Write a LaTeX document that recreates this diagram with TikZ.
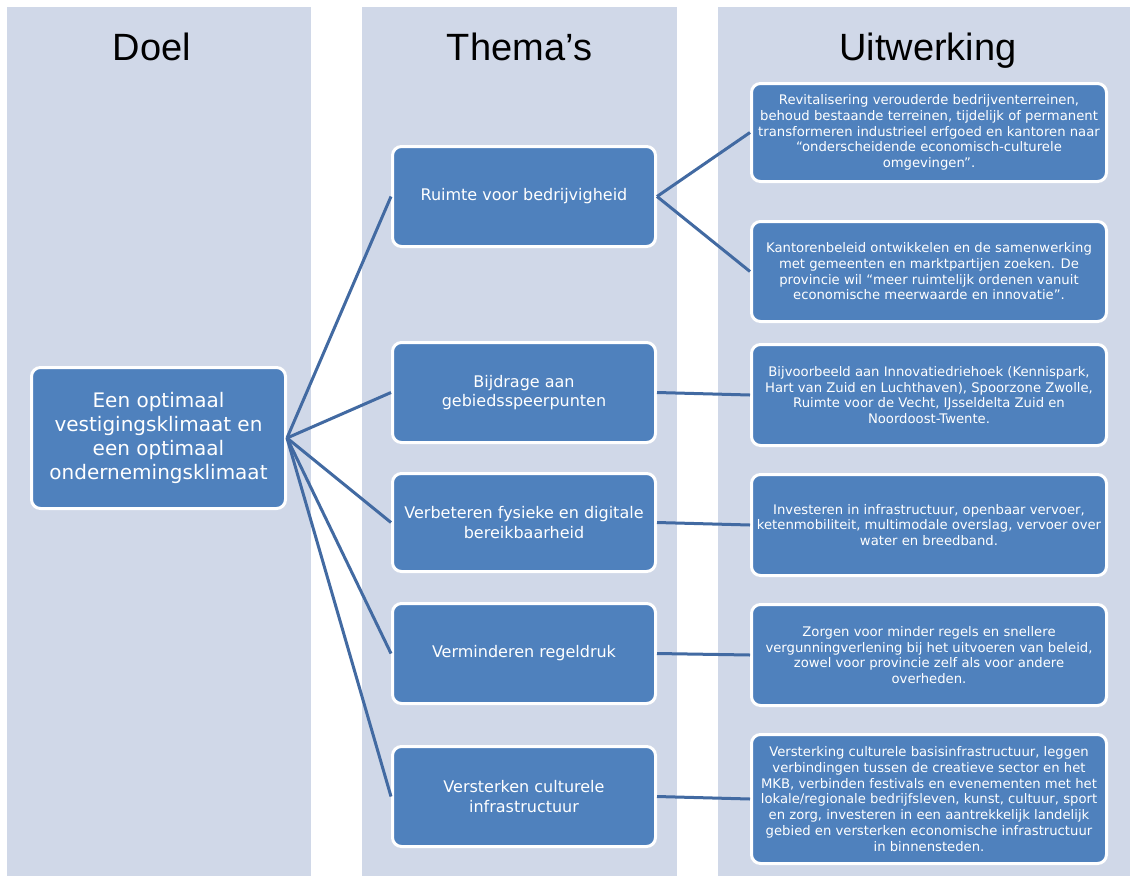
\documentclass[tikz,border=0pt]{standalone}
\usepackage{fontspec}
\setmainfont{Liberation Sans}
\newfontfamily\boxfont{DejaVu Sans}
\definecolor{colbg}{RGB}{208,216,232}
\definecolor{boxfill}{RGB}{79,129,189}
\definecolor{linkcol}{RGB}{66,106,162}
\begin{document}
\begin{tikzpicture}[x=1pt,y=-1pt,
  column/.style={fill=colbg,draw=none},
  box/.style={rectangle,rounded corners=9pt,fill=boxfill,draw=white,line width=3pt,
    text=white,align=center,inner sep=2pt},
  doelbox/.style={box,minimum width=254pt,minimum height=141pt,
    font=\boxfont\fontsize{20}{24.3}\selectfont},
  themabox/.style={box,minimum width=263pt,minimum height=100pt,
    font=\boxfont\fontsize{16}{19.5}\selectfont},
  uitbox/.style={box,minimum width=355pt,font=\boxfont\fontsize{13.2}{15.7}\selectfont},
  header/.style={anchor=base,font=\fontsize{38}{44}\selectfont,text=black},
  link/.style={draw=linkcol,line width=3pt}]
\useasboundingbox (0,0) rectangle (1130,876);
\fill[white] (0,0) rectangle (1130,876);
% columns
\fill[column] (7,7) rectangle (311,876);
\fill[column] (362,7) rectangle (677,876);
\fill[column] (718,7) rectangle (1130,876);
% headers
\node[header] (h1) at (152,60) {Doel};
\node[header] (h2) at (519.5,60) {Thema’s};
\node[header] (h3) at (928,60) {Uitwerking};
% goal
\node[doelbox] (doel) at (158.5,438) {Een optimaal\\vestigingsklimaat en\\een optimaal\\ondernemingsklimaat};
% themes
\node[themabox] (t1) at (524,196.5) {Ruimte voor bedrijvigheid};
\node[themabox] (t2) at (524,392.5) {Bijdrage aan\\gebiedsspeerpunten};
\node[themabox,minimum height=98pt] (t3) at (524,522.5) {Verbeteren fysieke en digitale\\bereikbaarheid};
\node[themabox] (t4) at (524,653.5) {Verminderen regeldruk};
\node[themabox] (t5) at (524,796.5) {Versterken culturele\\infrastructuur};
% elaborations
\node[uitbox,minimum height=98pt] (u1) at (929,132.5) {Revitalisering verouderde bedrijventerreinen,\\behoud bestaande terreinen, tijdelijk of permanent\\transformeren industrieel erfgoed en kantoren naar\\“onderscheidende economisch-culturele\\omgevingen”.};
\node[uitbox,minimum height=100pt] (u2) at (929,271.5) {Kantorenbeleid ontwikkelen en de samenwerking\\met gemeenten en marktpartijen zoeken. De\\provincie wil “meer ruimtelijk ordenen vanuit\\economische meerwaarde en innovatie”.};
\node[uitbox,minimum height=101pt] (u3) at (929,395) {Bijvoorbeeld aan Innovatiedriehoek (Kennispark,\\Hart van Zuid en Luchthaven), Spoorzone Zwolle,\\Ruimte voor de Vecht, IJsseldelta Zuid en\\Noordoost-Twente.};
\node[uitbox,minimum height=101pt] (u4) at (929,525) {Investeren in infrastructuur, openbaar vervoer,\\ketenmobiliteit, multimodale overslag, vervoer over\\water en breedband.};
\node[uitbox,minimum height=101pt] (u5) at (929,655) {Zorgen voor minder regels en snellere\\vergunningverlening bij het uitvoeren van beleid,\\zowel voor provincie zelf als voor andere\\overheden.};
\node[uitbox,minimum height=129pt] (u6) at (929,799) {Versterking culturele basisinfrastructuur, leggen\\verbindingen tussen de creatieve sector en het\\MKB, verbinden festivals en evenementen met het\\lokale/regionale bedrijfsleven, kunst, cultuur, sport\\en zorg, investeren in een aantrekkelijk landelijk\\gebied en versterken economische infrastructuur\\in binnensteden.};
% connectors
\foreach \t in {t1,t2,t3,t4,t5}{\draw[link] (doel.east) -- (\t.west);}
\draw[link] (t1.east) -- (u1.west);
\draw[link] (t1.east) -- (u2.west);
\draw[link] (t2.east) -- (u3.west);
\draw[link] (t3.east) -- (u4.west);
\draw[link] (t4.east) -- (u5.west);
\draw[link] (t5.east) -- (u6.west);
\end{tikzpicture}
\end{document}
